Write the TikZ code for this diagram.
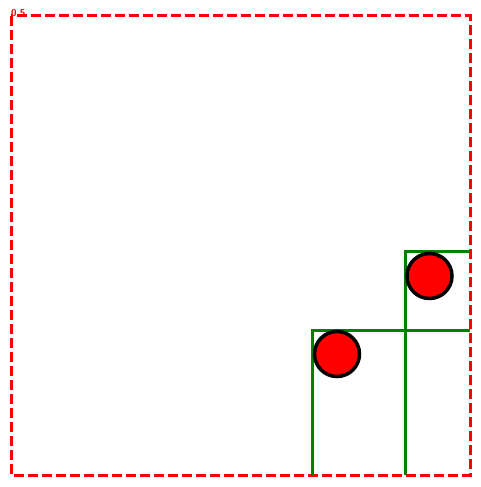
\documentclass[tikz,border=0pt]{standalone}
\begin{document}
\begin{tikzpicture}[x=1pt,y=-1pt,
  frame/.style={draw=red, line width=3pt, dash pattern=on 10pt off 4pt},
  wall/.style={draw=green!50!black, line width=3pt},
  ball/.style={circle, draw=black, line width=3.5pt, fill=red, minimum size=45pt, inner sep=0pt}]
\useasboundingbox (0,0) rectangle (481,487);
\draw[frame] (11,16) rectangle (470,475);
\node[anchor=base west, inner sep=0pt, text=red, font=\sffamily\bfseries\fontsize{10}{10}\selectfont] (lbl) at (11,17) {0.5};
\coordinate (a1) at (312,475);
\coordinate (a2) at (312,330);
\coordinate (a3) at (470,330);
\coordinate (b1) at (405,475);
\coordinate (b2) at (405,251);
\coordinate (b3) at (470,251);
\draw[wall] (a1) -- (a2) -- (a3);
\draw[wall] (b1) -- (b2) -- (b3);
\node[ball] (c1) at (337,354) {};
\node[ball] (c2) at (429.5,276) {};
\end{tikzpicture}
\end{document}
